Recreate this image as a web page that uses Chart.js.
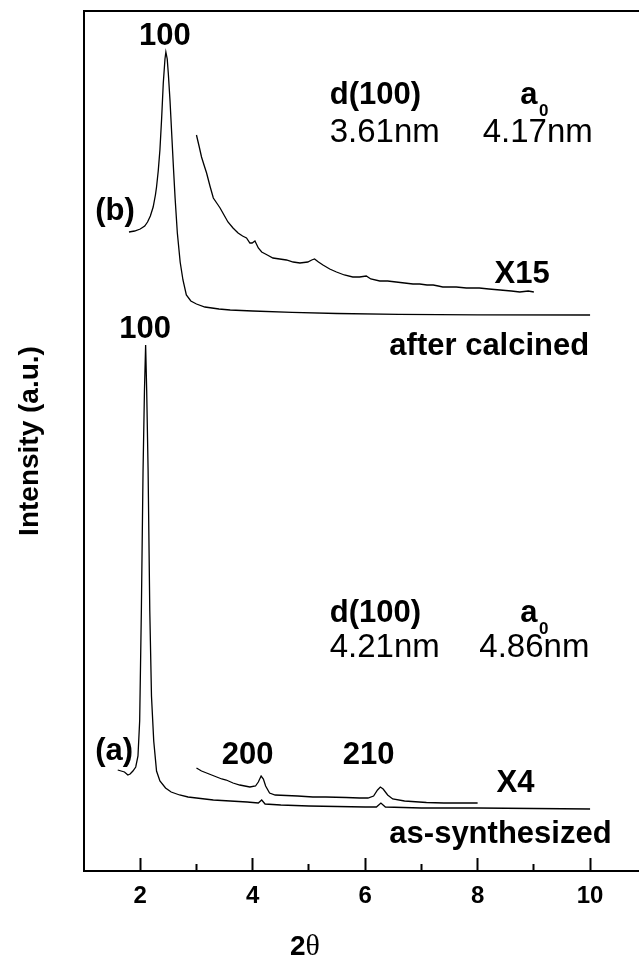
<!DOCTYPE html>
<html>
<head>
<meta charset="utf-8">
<script src="https://cdn.jsdelivr.net/npm/chart.js@4.4.1/dist/chart.umd.min.js"></script>
<style>
  html, body { margin: 0; padding: 0; background: #fff; overflow: hidden; }
  #wrap { width: 639px; height: 957px; }
</style>
</head>
<body>
<div id="wrap"><canvas id="xrdChart"></canvas></div>
<script>
// 2-theta (deg) / intensity (a.u.) pairs

// (b) after calcined
const calcinedTheta = [1.80, 1.90, 2.00, 2.08, 2.13, 2.18, 2.23, 2.27, 2.29, 2.32, 2.35, 2.38, 2.41, 2.44, 2.456,
  2.48, 2.50, 2.53, 2.56, 2.59, 2.62, 2.66, 2.71, 2.76, 2.82, 2.90, 3.00, 3.15, 3.40, 3.60, 4.00, 4.70, 5.50, 6.60, 8.00, 10.00];
const calcinedInt = [639, 640, 642, 645, 649, 655, 664, 676, 684, 700, 721, 752, 788, 812, 819,
  812, 797, 770, 737, 704, 673, 638, 609, 591, 576, 570, 567, 564, 562, 561, 560, 558.7, 557.5, 556.7, 556.2, 556];

// (b) x15 trace
const calcinedX15Theta = [3.00, 3.05, 3.09, 3.14, 3.18, 3.24, 3.30, 3.36, 3.42, 3.49, 3.56, 3.65, 3.74, 3.82, 3.89,
  3.95, 3.99, 4.04, 4.10, 4.16, 4.26, 4.36, 4.48, 4.60, 4.72, 4.84, 4.98, 5.05, 5.10, 5.17, 5.25, 5.37, 5.49,
  5.63, 5.78, 5.90, 6.02, 6.10, 6.26, 6.40, 6.55, 6.70, 6.85, 6.97, 7.10, 7.21, 7.30, 7.38, 7.50, 7.62, 7.80,
  8.03, 8.20, 8.40, 8.60, 8.75, 8.90, 9.00];
const calcinedX15Int = [736, 724, 714, 705, 698, 685, 673, 668, 663, 656, 649, 643, 638, 635, 633,
  628, 628, 630, 623, 619, 616, 613, 612, 611, 609, 608, 609, 611, 612, 609, 606, 602, 599,
  596, 594, 594, 595, 592, 590, 590, 589, 588, 587, 587, 586, 586, 585, 584, 584, 584, 583,
  583, 582, 581, 580, 579, 580, 579];

// (a) as-synthesized
const synthTheta = [1.60, 1.66, 1.72, 1.78, 1.82, 1.87, 1.92, 1.96, 1.99, 2.02, 2.05, 2.075, 2.096, 2.115, 2.14,
  2.17, 2.20, 2.24, 2.29, 2.35, 2.45, 2.55, 2.70, 2.85, 3.00, 3.30, 3.60, 3.90, 4.10, 4.16, 4.22, 4.50, 5.00,
  5.50, 6.00, 6.20, 6.28, 6.36, 7.00, 8.00, 9.00, 10.00];
const synthInt = [101, 100, 99, 96, 97, 100, 104, 115, 150, 260, 400, 480, 526, 480, 400,
  260, 175, 130, 100, 90, 83, 79, 76, 74, 73, 71, 70, 69, 68, 71, 67, 66, 65,
  64.5, 64, 64, 68, 64, 63, 63, 62.5, 62];

// (a) x4 trace
const synthX4Theta = [3.00, 3.09, 3.18, 3.27, 3.36, 3.45, 3.53, 3.65, 3.77, 3.86, 3.95, 4.05, 4.10, 4.15, 4.19,
  4.23, 4.30, 4.40, 4.60, 4.80, 5.07, 5.30, 5.66, 5.90, 6.05, 6.15, 6.22, 6.27, 6.32, 6.40, 6.49, 6.70, 7.09,
  7.40, 7.68, 8.00];
const synthX4Int = [103, 100, 98, 96, 94, 92, 91, 88, 86, 85, 84, 85, 89, 95, 92,
  85, 78, 76, 75.5, 75, 74, 74, 73.5, 73, 73, 75, 81, 84, 82, 76, 72, 70, 68.5,
  68, 68, 68];

const xMajorTicks = [2, 4, 6, 8, 10];
const xMinorTicks = [3, 5, 7, 9];

const toPoints = (xs, ys) => xs.map((x, i) => ({ x: x, y: ys[i] }));

const sans = "'Liberation Sans', Arial, sans-serif";
const bold = sz => `bold ${sz}px ${sans}`;
const plain = sz => `${sz}px ${sans}`;

// text placed in data coordinates (left edge / baseline unless centered)
const notes = [
  { text: '100', x: 2.44, y: 826, font: bold(31), align: 'center' },
  { text: 'd(100)', x: 5.37, y: 767, font: bold(31) },
  { text: 'a', x: 8.76, y: 767, font: bold(31) },
  { text: '0', x: 9.09, y: 755, font: bold(17) },
  { text: '3.61nm', x: 5.37, y: 729, font: plain(33) },
  { text: '4.17nm', x: 8.09, y: 729, font: plain(33) },
  { text: '(b)', x: 1.20, y: 651, font: bold(31) },
  { text: 'X15', x: 8.30, y: 588, font: bold(31) },
  { text: 'after calcined', x: 6.43, y: 516, font: bold(31) },
  { text: '100', x: 2.085, y: 533, font: bold(31), align: 'center' },
  { text: 'd(100)', x: 5.37, y: 249, font: bold(31) },
  { text: 'a', x: 8.76, y: 249, font: bold(31) },
  { text: '0', x: 9.09, y: 237, font: bold(17) },
  { text: '4.21nm', x: 5.37, y: 214, font: plain(33) },
  { text: '4.86nm', x: 8.03, y: 214, font: plain(33) },
  { text: '(a)', x: 1.20, y: 111, font: bold(31) },
  { text: '200', x: 3.91, y: 107, font: bold(31), align: 'center' },
  { text: '210', x: 6.06, y: 107, font: bold(31), align: 'center' },
  { text: 'X4', x: 8.335, y: 79, font: bold(31) },
  { text: 'as-synthesized', x: 6.43, y: 28, font: bold(31) }
];

const notesPlugin = {
  id: 'notes',
  afterDraw(chart) {
    const ctx = chart.ctx;
    const xs = chart.scales.x, ys = chart.scales.y;
    ctx.save();
    ctx.fillStyle = '#000';
    ctx.textBaseline = 'alphabetic';
    notes.forEach(n => {
      ctx.font = n.font;
      ctx.textAlign = n.align || 'left';
      ctx.fillText(n.text, xs.getPixelForValue(n.x), ys.getPixelForValue(n.y));
    });
    // x axis title: bold "2" + serif theta
    const cx = xs.getPixelForValue(4.93);
    const by = chart.chartArea.bottom + 84;
    const serif = "30px 'Liberation Serif', 'Times New Roman', serif";
    ctx.textAlign = 'left';
    ctx.font = bold(28);
    const w2 = ctx.measureText('2').width;
    ctx.font = serif;
    const wt = ctx.measureText('θ').width;
    const x0 = cx - (w2 + wt) / 2;
    ctx.font = bold(28);
    ctx.fillText('2', x0, by);
    ctx.font = serif;
    ctx.fillText('θ', x0 + w2, by);
    ctx.restore();
  }
};

const line = (pts) => ({
  data: pts,
  borderColor: '#000',
  borderWidth: 1.3,
  pointRadius: 0,
  fill: false,
  tension: 0
});

const ctx = document.getElementById('xrdChart').getContext('2d');
const xrdChart = new Chart(ctx, {
  type: 'line',
  data: {
    datasets: [
      line(toPoints(calcinedTheta, calcinedInt)),
      line(toPoints(calcinedX15Theta, calcinedX15Int)),
      line(toPoints(synthTheta, synthInt)),
      line(toPoints(synthX4Theta, synthX4Int))
    ]
  },
  options: {
    responsive: true,
    maintainAspectRatio: false,
    animation: false,
    layout: { padding: 0 },
    plugins: { legend: { display: false }, tooltip: { enabled: false } },
    scales: {
      x: {
        type: 'linear', position: 'bottom', min: 1, max: 10.87, weight: 1,
        afterFit: s => { s.height = 86; },
        afterBuildTicks: s => { s.ticks = xMajorTicks.map(v => ({ value: v })); },
        ticks: {
          color: '#000', padding: 24, maxRotation: 0, autoSkip: false,
          font: { family: sans, size: 24, weight: 'bold' }
        },
        grid: { drawOnChartArea: false, tickLength: -13, tickWidth: 2, tickColor: '#000' },
        border: { display: true, color: '#000', width: 2 }
      },
      xMinor: {
        type: 'linear', position: 'bottom', min: 1, max: 10.87, weight: 0,
        afterFit: s => { s.height = 0; },
        afterBuildTicks: s => { s.ticks = xMinorTicks.map(v => ({ value: v })); },
        ticks: { display: false },
        grid: { drawOnChartArea: false, tickLength: -7, tickWidth: 2, tickColor: '#000' },
        border: { display: false }
      },
      xTop: {
        type: 'linear', position: 'top', min: 1, max: 10.87,
        afterFit: s => { s.height = 11; },
        ticks: { display: false },
        grid: { drawOnChartArea: false, drawTicks: false },
        border: { display: true, color: '#000', width: 2 }
      },
      y: {
        type: 'linear', min: 0, max: 860,
        afterFit: s => { s.width = 84; },
        ticks: { display: false },
        grid: { drawOnChartArea: false, drawTicks: false },
        border: { display: true, color: '#000', width: 2 },
        title: {
          display: true, text: 'Intensity (a.u.)', color: '#000',
          font: { family: sans, size: 28, weight: 'bold' },
          padding: { top: 13, bottom: 0 }
        }
      }
    }
  },
  plugins: [notesPlugin]
});
</script>
</body>
</html>
